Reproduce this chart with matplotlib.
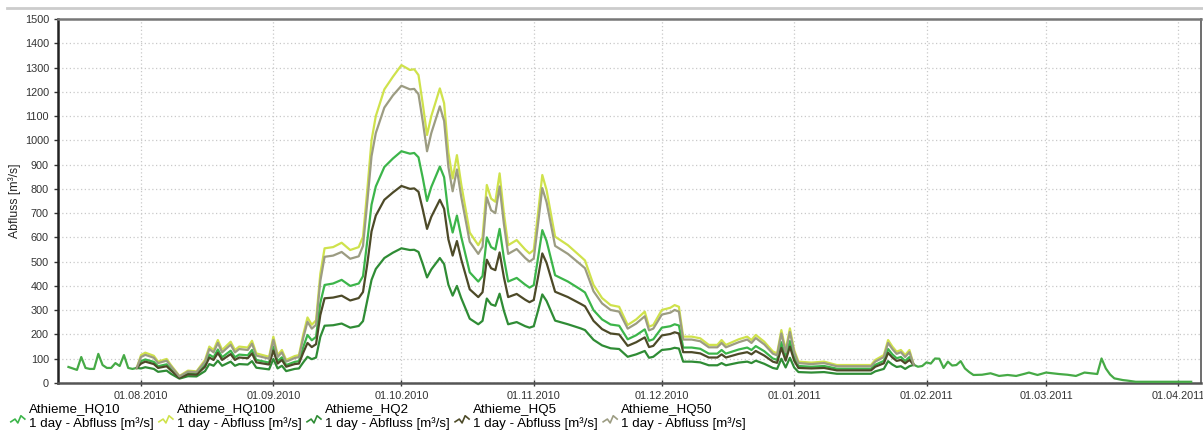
import numpy as np
import matplotlib
matplotlib.use("Agg")
import matplotlib.pyplot as plt
import matplotlib.dates as mdates
from matplotlib.lines import Line2D
from matplotlib.legend_handler import HandlerBase

plt.rcParams['font.family'] = ['Liberation Sans', 'DejaVu Sans']

# day offsets from 01.08.2010
start = np.datetime64('2010-08-01')

# common run-up before the scenarios split
pre_days = [-17, -16, -15, -14, -13, -12, -11, -10, -9, -8, -7, -6, -5, -4, -3, -2, -1]
pre_flow = [66, 60, 54, 107, 62, 58, 58, 120, 74, 62, 62, 82, 70, 115, 62, 58, 62]

days = [0, 1, 3, 4, 6, 7, 9, 11, 13, 15,
        16, 17, 18, 19, 21, 22, 23, 25, 26, 27,
        30, 31, 32, 33, 34, 36, 37, 38, 39, 40,
        41, 42, 43, 45, 47, 49, 51, 52, 53, 54,
        55, 57, 59, 61, 63, 64, 65, 66, 67, 68,
        70, 71, 72, 73, 74, 75, 77, 79, 80, 81,
        82, 83, 84, 85, 86, 88, 90, 91, 92, 93,
        94, 95, 97, 100, 103, 104, 106, 108, 110, 112,
        114, 116, 118, 119, 120, 122, 124, 125, 126, 127,
        129, 131, 133, 135, 136, 137, 140, 142, 143, 144,
        146, 148, 149, 150, 151, 152, 153, 154, 157, 160,
        163, 167, 171, 172, 174, 175, 176, 177, 178, 179,
        180]

hq100 = [115, 125, 112, 88, 99, 74, 29, 51, 48, 95,
         150, 136, 177, 136, 170, 136, 150, 146, 174, 122,
         108, 191, 115, 136, 95, 111, 115, 200, 270, 240,
         258, 450, 555, 560, 578, 548, 560, 603, 795, 1000,
         1100, 1210, 1262, 1310, 1290, 1293, 1269, 1150, 1022, 1100,
         1214, 1153, 950, 843, 939, 820, 620, 568, 600, 816,
         760, 747, 864, 700, 568, 589, 550, 534, 548, 700,
         857, 795, 603, 568, 521, 505, 404, 350, 321, 314,
         239, 262, 294, 232, 239, 301, 310, 321, 314, 191,
         191, 184, 157, 157, 177, 157, 180, 191, 177, 198,
         170, 130, 122, 218, 136, 225, 136, 88, 84, 88,
         74, 74, 74, 95, 115, 177, 150, 129, 136, 115,
         136]

hq50 = [107, 116, 104, 82, 92, 69, 27, 47, 45, 88,
        140, 126, 165, 126, 158, 126, 140, 136, 162, 113,
        100, 178, 107, 126, 88, 103, 107, 186, 252, 224,
        240, 420, 520, 525, 540, 512, 522, 565, 745, 935,
        1030, 1135, 1185, 1225, 1210, 1212, 1190, 1078, 955, 1030,
        1140, 1080, 890, 790, 880, 768, 582, 532, 562, 765,
        712, 700, 810, 656, 532, 552, 515, 500, 513, 656,
        803, 745, 565, 532, 488, 473, 378, 328, 301, 294,
        224, 245, 275, 217, 224, 282, 290, 301, 294, 179,
        179, 172, 147, 147, 165, 147, 168, 179, 165, 185,
        159, 121, 114, 204, 127, 210, 127, 82, 78, 82,
        69, 69, 69, 88, 107, 165, 140, 120, 127, 107,
        127]

hq10 = [90, 97, 87, 69, 77, 58, 24, 40, 38, 74,
        117, 106, 138, 106, 133, 106, 117, 114, 136, 95,
        84, 149, 90, 106, 74, 87, 90, 148, 198, 176,
        190, 330, 404, 410, 425, 400, 410, 440, 585, 735,
        810, 890, 925, 955, 945, 948, 930, 845, 750, 808,
        892, 848, 698, 620, 690, 603, 456, 418, 441, 600,
        560, 550, 635, 515, 418, 433, 405, 393, 403, 515,
        630, 585, 444, 418, 385, 373, 300, 262, 241, 236,
        180, 197, 221, 174, 180, 228, 234, 242, 237, 146,
        146, 141, 121, 121, 136, 121, 138, 146, 136, 152,
        131, 101, 95, 168, 105, 173, 105, 70, 67, 70,
        59, 59, 59, 75, 91, 140, 118, 102, 107, 91,
        107]

hq5 = [80, 88, 78, 62, 69, 52, 21, 36, 34, 67,
       105, 95, 124, 95, 119, 95, 105, 102, 122, 85,
       76, 134, 80, 95, 67, 78, 80, 125, 165, 148,
       160, 280, 349, 352, 360, 340, 350, 375, 490, 625,
       690, 755, 785, 812, 800, 802, 788, 715, 635, 685,
       755, 718, 592, 525, 585, 510, 386, 354, 374, 508,
       473, 465, 538, 436, 354, 367, 343, 333, 342, 436,
       534, 495, 376, 354, 326, 316, 256, 222, 204, 200,
       153, 168, 188, 148, 153, 196, 202, 209, 204, 127,
       127, 122, 105, 105, 118, 105, 120, 127, 118, 132,
       113, 88, 83, 145, 92, 150, 92, 62, 60, 62,
       52, 52, 52, 67, 81, 124, 105, 91, 95, 81,
       95]

hq2 = [60, 65, 58, 46, 51, 38, 18, 28, 27, 49,
       78, 71, 92, 71, 88, 71, 78, 76, 90, 63,
       56, 99, 60, 71, 49, 58, 60, 85, 108, 98,
       105, 190, 236, 238, 245, 228, 235, 255, 340, 425,
       470, 515, 537, 555, 548, 549, 540, 490, 435, 468,
       515, 490, 405, 360, 400, 350, 265, 242, 256, 348,
       324, 318, 368, 298, 242, 251, 234, 228, 234, 298,
       365, 338, 257, 242, 225, 218, 178, 155, 143, 140,
       108, 118, 132, 104, 108, 136, 140, 145, 142, 88,
       88, 85, 73, 73, 82, 73, 84, 88, 82, 92,
       79, 62, 58, 100, 64, 104, 64, 45, 43, 45,
       38, 38, 38, 48, 58, 90, 76, 66, 69, 58,
       69]

# common recession after the scenarios merge again
post_days = [181, 182, 183, 184, 185, 186, 187, 188, 189, 190,
             191, 192, 193, 194, 195, 197, 198, 199, 201, 203,
             205, 207, 208, 210, 212, 215, 217, 219, 221, 224,
             225, 226, 227, 228, 230, 231, 233, 237, 246]
post_flow = [75, 67, 70, 85, 80, 101, 100, 62, 88, 72,
             74, 90, 60, 45, 33, 34, 37, 40, 29, 33,
             29, 38, 43, 33, 43, 37, 34, 29, 43, 37,
             101, 60, 35, 19, 12, 10, 5, 5, 5]

names = ['Athieme_HQ10', 'Athieme_HQ100', 'Athieme_HQ2', 'Athieme_HQ5', 'Athieme_HQ50']
series = [hq10, hq100, hq2, hq5, hq50]
colors = ['#3cb54a', '#cfe24c', '#2f8c35', '#4d4a28', '#9c9c82']


def to_dates(d):
    return start + np.array(d, dtype='timedelta64[D]')


class ZigzagHandler(HandlerBase):
    def create_artists(self, legend, orig_handle, xdescent, ydescent,
                       width, height, fontsize, trans):
        xs = np.array([0.0, 0.3, 0.5, 0.72, 1.0]) * width - xdescent
        ys = np.array([0.05, 0.3, -0.05, 0.6, 0.3]) * height - ydescent
        ln = Line2D(xs, ys, color=orig_handle.get_color(), lw=1.2)
        ln.set_transform(trans)
        return [ln]


fig = plt.figure(figsize=(12.03, 4.33), dpi=100)
ax = fig.add_axes([0.0482, 0.1155, 0.9505, 0.8406])

ax.plot(to_dates(pre_days), pre_flow, color='#46aa46', lw=1.6, zorder=3)
ax.plot(to_dates(post_days), post_flow, color='#46aa46', lw=1.6, zorder=3)

handles = []
for name, vals, col in zip(names, series, colors):
    d = [pre_days[-1]] + days + [post_days[0]]
    v = [pre_flow[-1]] + vals + [post_flow[0]]
    h, = ax.plot(to_dates(d), v, color=col, lw=1.6, zorder=3, label=name)
    handles.append(h)

x0 = mdates.date2num(start)
ax.set_xlim(x0 - 19.45, x0 + 248.4)
ax.set_ylim(0, 1500)
ax.set_yticks(np.arange(0, 1501, 100))
ax.xaxis.set_major_locator(mdates.MonthLocator())
ax.xaxis.set_major_formatter(mdates.DateFormatter('%d.%m.%Y'))

ax.grid(True, color='#c9c9c9', linestyle=(0, (1, 2)), lw=0.9)
ax.set_axisbelow(True)
ax.tick_params(axis='both', labelsize=7.8, colors='#333333', length=3, width=1)
ax.tick_params(axis='x', direction='inout', length=5, pad=3)
ax.set_ylabel('Abfluss [m³/s]', fontsize=8.8, color='#222222', labelpad=3)

ax.spines['left'].set_color('#222222')
ax.spines['left'].set_linewidth(1.8)
ax.spines['bottom'].set_color('#555555')
ax.spines['bottom'].set_linewidth(1.8)
ax.spines['top'].set_color('#777777')
ax.spines['top'].set_linewidth(1.8)
ax.spines['right'].set_color('#555555')
ax.spines['right'].set_linewidth(1.2)

# thin separator above the chart
fig.add_artist(Line2D([0.006, 1.0], [0.9815, 0.9815], color='#cccccc', lw=2.0))

labels = [n + '\n1 day - Abfluss [m³/s]' for n in names]
fig.legend(handles, labels, handler_map={Line2D: ZigzagHandler()},
           loc='upper left', bbox_to_anchor=(0.009, 0.068), ncol=5,
           frameon=False, fontsize=9.6, handlelength=1.05, handleheight=0.9,
           handletextpad=0.3, columnspacing=0.4, borderpad=0, borderaxespad=0)

fig.savefig('out.png', dpi=100)
